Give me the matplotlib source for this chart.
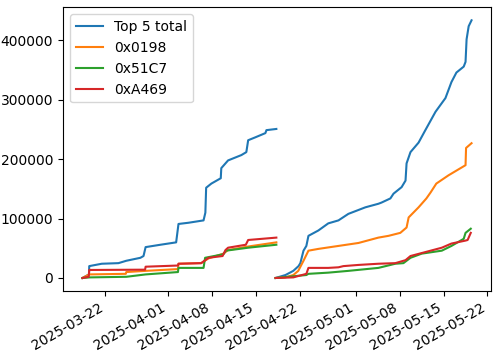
import pandas as pd
import matplotlib
matplotlib.use("Agg")
import matplotlib.pyplot as plt

# Primer tramo (hasta el reinicio del 18 de abril)
total_d1 = ["2025-03-18 08:00", "2025-03-19 09:00", "2025-03-19 10:00", "2025-03-21 10:00",
            "2025-03-24 02:00", "2025-03-25 08:00", "2025-03-27 14:00", "2025-03-28 02:00",
            "2025-03-28 10:00", "2025-03-30 19:00", "2025-04-02 07:00", "2025-04-02 16:00",
            "2025-04-04 06:00", "2025-04-06 16:00", "2025-04-06 23:00", "2025-04-07 02:00",
            "2025-04-07 22:00", "2025-04-09 10:00", "2025-04-09 12:00", "2025-04-10 14:00",
            "2025-04-12 17:00", "2025-04-13 12:00", "2025-04-13 19:00", "2025-04-14 23:00",
            "2025-04-16 13:00", "2025-04-16 17:00", "2025-04-18 07:00"]
total_v1 = [0, 6000, 20000, 24000, 25000, 29000, 34000, 37000, 52000, 56000, 60000, 91000,
            93000, 97000, 110000, 152000, 159000, 168000, 185000, 198000, 207000, 212000,
            232000, 237000, 244000, 249000, 251000]

o198_d1 = ["2025-03-18 08:00", "2025-03-19 10:00", "2025-03-25 06:00", "2025-03-25 08:00",
           "2025-03-28 10:00", "2025-04-02 14:00", "2025-04-02 16:00", "2025-04-06 07:00",
           "2025-04-07 11:00", "2025-04-09 20:00", "2025-04-10 14:00", "2025-04-13 19:00",
           "2025-04-18 07:00"]
o198_v1 = [0, 6000, 7000, 10000, 12000, 15000, 24000, 25000, 33000, 41000, 47000, 53000, 60000]

g51c7_d1 = ["2025-03-18 08:00", "2025-03-19 12:00", "2025-03-25 08:00", "2025-03-28 10:00",
            "2025-04-02 14:00", "2025-04-02 16:00", "2025-04-06 16:00", "2025-04-06 22:00",
            "2025-04-09 20:00", "2025-04-10 06:00", "2025-04-13 19:00", "2025-04-18 07:00"]
g51c7_v1 = [0, 1000, 2000, 6000, 10000, 17000, 17000, 34000, 40000, 46000, 51000, 56000]

ra469_d1 = ["2025-03-18 08:00", "2025-03-19 08:00", "2025-03-19 10:00", "2025-03-28 08:00",
            "2025-03-28 10:00", "2025-04-02 14:00", "2025-04-02 16:00", "2025-04-06 07:00",
            "2025-04-07 11:00", "2025-04-09 17:00", "2025-04-10 04:00", "2025-04-10 14:00",
            "2025-04-13 10:00", "2025-04-13 19:00", "2025-04-18 07:00"]
ra469_v1 = [0, 2000, 13500, 14000, 19000, 21000, 24000, 25000, 34000, 37000, 47000, 51000,
            56000, 64000, 68000]

# Segundo tramo (desde el reinicio)
total_d2 = ["2025-04-18 04:00", "2025-04-19 18:00", "2025-04-21 00:00", "2025-04-21 20:00",
            "2025-04-22 03:00", "2025-04-22 15:00", "2025-04-23 02:00", "2025-04-23 10:00",
            "2025-04-25 00:00", "2025-04-26 14:00", "2025-04-28 05:00", "2025-04-29 19:00",
            "2025-05-02 12:00", "2025-05-04 14:00", "2025-05-05 02:00", "2025-05-06 12:00",
            "2025-05-07 00:00", "2025-05-08 07:00", "2025-05-08 22:00", "2025-05-09 02:00",
            "2025-05-09 17:00", "2025-05-11 00:00", "2025-05-12 02:00", "2025-05-13 17:00",
            "2025-05-15 07:00", "2025-05-16 06:00", "2025-05-17 01:00", "2025-05-18 05:00",
            "2025-05-18 12:00", "2025-05-18 16:00", "2025-05-19 00:00", "2025-05-19 11:00"]
total_v2 = [0, 5000, 12000, 20000, 25000, 46000, 54000, 71000, 80000, 92000, 97000, 108000,
            119000, 125000, 127000, 134000, 142000, 153000, 164000, 193000, 212000, 228000,
            249000, 280000, 303000, 330000, 346000, 356000, 364000, 402000, 424000, 434000]

o198_d2 = ["2025-04-18 04:00", "2025-04-19 18:00", "2025-04-21 00:00", "2025-04-21 19:00",
           "2025-04-22 15:00", "2025-04-23 10:00", "2025-04-25 00:00", "2025-04-28 05:00",
           "2025-05-01 10:00", "2025-05-04 14:00", "2025-05-06 05:00", "2025-05-08 02:00",
           "2025-05-09 02:00", "2025-05-09 10:00", "2025-05-11 00:00", "2025-05-12 06:00",
           "2025-05-12 22:00", "2025-05-13 20:00", "2025-05-15 19:00", "2025-05-18 12:00",
           "2025-05-18 14:00", "2025-05-19 11:00"]
o198_v2 = [0, 1000, 5000, 12000, 29000, 46000, 49000, 54000, 59000, 68000, 71000, 76000,
           85000, 102000, 119000, 134000, 144000, 159000, 173000, 190000, 219000, 227000]

g51c7_d2 = ["2025-04-18 04:00", "2025-04-23 02:00", "2025-04-23 10:00", "2025-04-26 14:00",
            "2025-04-29 19:00", "2025-05-04 14:00", "2025-05-07 07:00", "2025-05-08 14:00",
            "2025-05-09 17:00", "2025-05-11 12:00", "2025-05-14 17:00", "2025-05-16 06:00",
            "2025-05-18 05:00", "2025-05-18 12:00", "2025-05-19 08:00"]
g51c7_v2 = [0, 5000, 7000, 9000, 12000, 17000, 24000, 25000, 34000, 41000, 46000, 54000,
            66000, 76000, 83000]

ra469_d2 = ["2025-04-18 04:00", "2025-04-21 00:00", "2025-04-23 02:00", "2025-04-23 10:00",
            "2025-04-26 14:00", "2025-04-28 05:00", "2025-04-29 00:00", "2025-05-01 10:00",
            "2025-05-04 14:00", "2025-05-07 07:00", "2025-05-08 22:00", "2025-05-09 17:00",
            "2025-05-11 12:00", "2025-05-14 17:00", "2025-05-16 06:00", "2025-05-18 12:00",
            "2025-05-18 20:00", "2025-05-19 08:00"]
ra469_v2 = [0, 1000, 7000, 17000, 17000, 18000, 20000, 22000, 24000, 25000, 30000, 37000,
            42000, 51000, 58000, 63000, 64000, 76000]

series = [
    ("Top 5 total", "C0", total_d1, total_v1, total_d2, total_v2),
    ("0x0198", "C1", o198_d1, o198_v1, o198_d2, o198_v2),
    ("0x51C7", "C2", g51c7_d1, g51c7_v1, g51c7_d2, g51c7_v2),
    ("0xA469", "C3", ra469_d1, ra469_v1, ra469_d2, ra469_v2),
]

fig, ax = plt.subplots(figsize=(5, 3.53), dpi=100)

# Cada serie en dos tramos separados, mismo color
for label, color, d1, v1, d2, v2 in series:
    ax.plot(pd.to_datetime(d1), v1, color=color, label=label)
    ax.plot(pd.to_datetime(d2), v2, color=color)

ax.legend(loc="upper left")
fig.autofmt_xdate()
fig.subplots_adjust(left=0.126, right=0.982, top=0.979, bottom=0.176)

fig.savefig("out.png")
